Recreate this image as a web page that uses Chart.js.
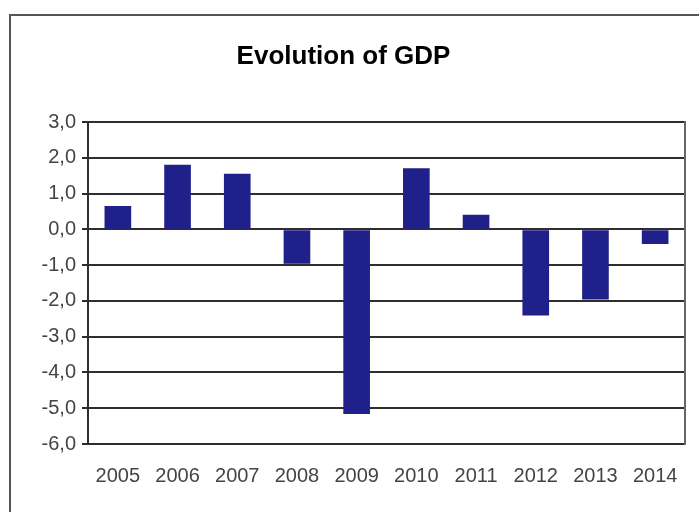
<!DOCTYPE html>
<html>
<head>
<meta charset="utf-8">
<script src="https://cdn.jsdelivr.net/npm/chart.js@4/dist/chart.umd.min.js"></script>
<style>
  html, body { margin: 0; padding: 0; background: #fff; }
  #wrap { width: 699px; height: 512px; }
</style>
</head>
<body>
<div id="wrap"><canvas id="gdpChart" width="699" height="512"></canvas></div>
<script>
const years = ['2005', '2006', '2007', '2008', '2009', '2010', '2011', '2012', '2013', '2014'];
const gdpGrowth = [0.65, 1.8, 1.55, -0.95, -5.15, 1.7, 0.4, -2.4, -1.95, -0.4];
const yTicks = [3, 2, 1, 0, -1, -2, -3, -4, -5, -6];

// outer frame of the scanned figure (left and top edges only)
const framePlugin = {
    id: 'frame',
    beforeDraw(chart) {
        const ctx = chart.ctx;
        ctx.save();
        ctx.strokeStyle = '#555';
        ctx.lineWidth = 2;
        ctx.beginPath();
        ctx.moveTo(10, 512);
        ctx.lineTo(10, 15);
        ctx.lineTo(699, 15);
        ctx.stroke();
        ctx.restore();
    }
};

new Chart(document.getElementById('gdpChart').getContext('2d'), {
    type: 'bar',
    data: {
        labels: years,
        datasets: [{
            label: 'GDP',
            data: gdpGrowth,
            backgroundColor: '#20208a',
            borderWidth: 0,
            barThickness: 26
        }]
    },
    options: {
        responsive: false,
        animation: false,
        layout: { padding: { left: 0, right: 12, top: 0, bottom: 0 } },
        plugins: {
            legend: { display: false },
            tooltip: { enabled: false },
            title: {
                display: true,
                text: 'Evolution of GDP',
                color: '#000',
                font: { family: '"Liberation Sans", Arial, sans-serif', size: 26, weight: 'bold' },
                padding: { top: 41, bottom: 50 }
            }
        },
        scales: {
            x: {
                grid: { display: false },
                border: { display: false },
                ticks: {
                    color: '#444',
                    font: { family: '"Liberation Sans", Arial, sans-serif', size: 20 },
                    padding: 12,
                    maxRotation: 0
                },
                afterFit(scale) { scale.height = 68; }
            },
            y: {
                min: -6,
                max: 3,
                afterBuildTicks(scale) {
                    scale.ticks = yTicks.map(v => ({ value: v }));
                },
                ticks: {
                    color: '#444',
                    font: { family: '"Liberation Sans", Arial, sans-serif', size: 20 },
                    padding: 6,
                    callback: v => v.toFixed(1).replace('.', ',')
                },
                grid: { color: '#2e2e2e', lineWidth: 2, tickLength: 6 },
                border: { color: '#2e2e2e', width: 2 },
                afterFit(scale) { scale.width = 88; }
            },
            y2: {
                position: 'right',
                min: -6,
                max: 3,
                ticks: { display: false },
                grid: { display: false },
                border: { color: '#666', width: 2 },
                afterFit(scale) { scale.width = 2; }
            }
        }
    },
    plugins: [framePlugin]
});
</script>
</body>
</html>
